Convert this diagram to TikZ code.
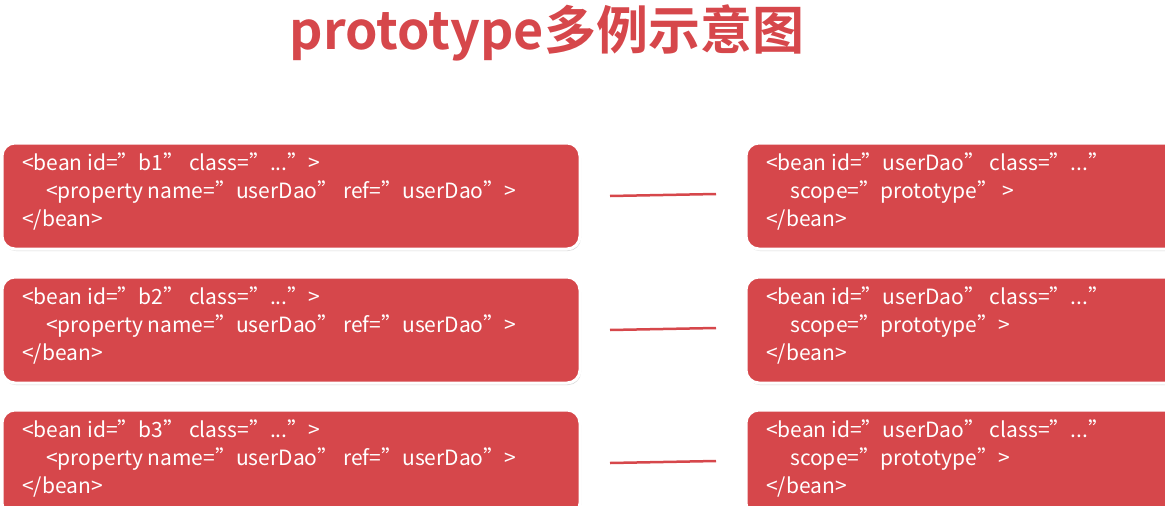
\documentclass[tikz,border=0pt]{standalone}
\usepackage{fontspec}
\usetikzlibrary{shadows}
\setmainfont{Noto Sans CJK SC}
\newfontfamily\titlefont{Noto Sans CJK SC Bold}
\definecolor{bred}{HTML}{D6474B}
\begin{document}
\begin{tikzpicture}[x=1pt,y=-1pt,
  beanbox/.style={draw=white,line width=3pt,fill=bred,rounded corners=13pt,
    drop shadow={shadow xshift=1pt,shadow yshift=-2pt,opacity=0.3}},
  btext/.style={text=white,font=\fontsize{21}{28}\selectfont,align=left,anchor=north west,inner sep=0pt},
  link/.style={draw=bred,line width=2.5pt}]
\useasboundingbox (0,0) rectangle (1165,506);
\clip (0,0) rectangle (1165,506);
\node[text=bred,font=\titlefont\fontsize{52}{60}\selectfont] (title) at (547,33) {prototype多例示意图};
\foreach \i/\y/\b/\sp in {1/143/b1/{ },2/277/b2/{},3/410/b3/{}}{
  \path[beanbox] (2,\y) rectangle (580,\y+106);
  \path[beanbox] (746,\y) rectangle (1185,\y+106);
  \node[btext] (L\i) at (22,\y+10) {<bean id="\b" class="...">\\\hspace*{24pt}<property name="userDao" ref="userDao">\\</bean>};
  \node[btext] (R\i) at (766,\y+10) {<bean id="userDao" class="..."\\\hspace*{24pt}scope="prototype"\sp>\\</bean>};
  \coordinate (a\i) at (610,\y+53);
  \coordinate (b\i) at (716,\y+51);
  \draw[link] (a\i) -- (b\i);
}
\end{tikzpicture}
\end{document}
